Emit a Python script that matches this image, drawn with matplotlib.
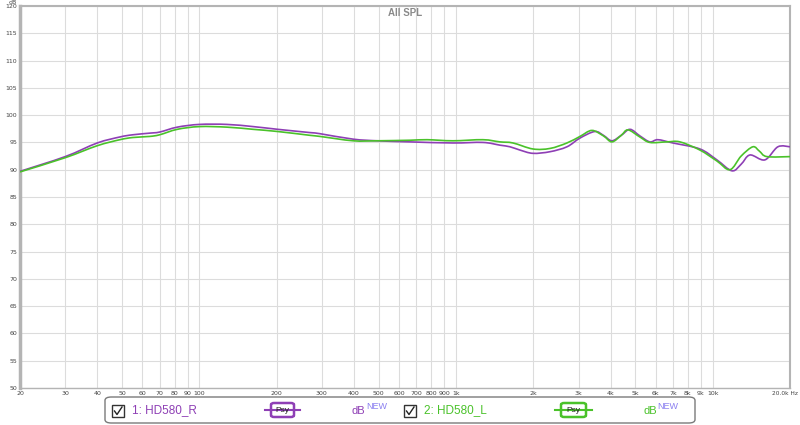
import matplotlib
matplotlib.use("Agg")
import matplotlib.pyplot as plt
import numpy as np
from matplotlib.patches import FancyBboxPatch, Rectangle, PathPatch
from matplotlib.path import Path
from matplotlib.lines import Line2D

# Частотна характеристика HD580 (правий / лівий канал)
freq_r = [20, 30, 40, 49, 55, 64, 70, 82, 100, 128, 162, 202, 270, 295, 397, 492,
          661, 972, 1272, 1482, 1622, 1774, 1993, 2323, 2704, 3039, 3471, 3750,
          4047, 4400, 4760, 5200, 5689, 6110, 6996, 8915, 10380, 11880, 12900,
          13960, 15960, 17940, 20000]
spl_r = [89.7, 92.4, 94.9, 96.0, 96.4, 96.7, 96.9, 97.8, 98.3, 98.3, 97.9, 97.4,
         96.8, 96.6, 95.6, 95.3, 95.1, 94.9, 95.0, 94.5, 94.2, 93.6, 93.0, 93.3,
         94.2, 95.8, 97.0, 96.3, 95.3, 96.3, 97.4, 96.2, 95.1, 95.5, 94.9, 93.8,
         91.8, 89.8, 91.0, 92.7, 91.8, 94.2, 94.2]

freq_l = [20, 30, 40, 49, 55, 64, 70, 82, 100, 128, 162, 202, 270, 295, 397, 492,
          661, 770, 972, 1272, 1482, 1666, 1993, 2323, 2704, 3039, 3381, 3750,
          4047, 4400, 4676, 5200, 5689, 6627, 7448, 8915, 10380, 11670, 12900,
          14330, 15200, 16260, 20000]
spl_l = [89.6, 92.2, 94.4, 95.5, 95.9, 96.1, 96.4, 97.4, 97.9, 97.8, 97.4, 97.0,
         96.3, 96.1, 95.3, 95.3, 95.4, 95.5, 95.3, 95.5, 95.1, 94.9, 93.8, 93.9,
         94.9, 96.1, 97.2, 96.2, 95.1, 96.3, 97.3, 96.0, 95.0, 95.1, 95.1, 93.6,
         91.6, 90.0, 92.5, 94.2, 93.4, 92.4, 92.4]

x_ticks = [20, 30, 40, 50, 60, 70, 80, 90, 100, 200, 300, 400, 500, 600, 700, 800,
           900, 1000, 2000, 3000, 4000, 5000, 6000, 7000, 8000, 9000, 10000, 20000]
x_labels = ["20", "30", "40", "50", "60", "70", "80", "90", "100", "200", "300",
            "400", "500", "600", "700", "800", "900", "1k", "2k", "3k", "4k", "5k",
            "6k", "7k", "8k", "9k", "10k", ""]
y_ticks = list(range(50, 121, 5))

purple = "#8e3fb5"
green = "#4ac22a"

W, H = 800, 425
fig = plt.figure(figsize=(8, 4.25), dpi=100)
fig.patch.set_facecolor("white")


def fx(px):
    return px / W


def fy(py):
    return 1 - py / H


def smooth_path(freq, spl):
    # плавна крива (Catmull-Rom -> Bezier) у лог-просторі частот
    u = np.log10(freq)
    v = np.asarray(spl, dtype=float)
    n = len(u)
    verts = [(freq[0], v[0])]
    codes = [Path.MOVETO]
    for i in range(n - 1):
        i0, i2, i3 = max(i - 1, 0), i + 1, min(i + 2, n - 1)
        c1u = u[i] + (u[i2] - u[i0]) / 6
        c1v = v[i] + (v[i2] - v[i0]) / 6
        c2u = u[i2] - (u[i3] - u[i]) / 6
        c2v = v[i2] - (v[i3] - v[i]) / 6
        verts += [(10 ** c1u, c1v), (10 ** c2u, c2v), (freq[i2], v[i2])]
        codes += [Path.CURVE4] * 3
    return Path(verts, codes)


ax = fig.add_axes([fx(20), fy(388), fx(790) - fx(20), fy(6) - fy(388)])
ax.set_xscale("log")
ax.set_xlim(20, 20000)
ax.set_ylim(50, 120)

ax.add_patch(PathPatch(smooth_path(freq_r, spl_r), fc="none", ec=purple, lw=1.2, zorder=3))
ax.add_patch(PathPatch(smooth_path(freq_l, spl_l), fc="none", ec=green, lw=1.2, zorder=4))

ax.set_xticks(x_ticks)
ax.set_xticklabels(x_labels)
ax.xaxis.set_minor_locator(matplotlib.ticker.NullLocator())
ax.set_yticks(y_ticks)
ax.set_yticklabels([str(v) for v in y_ticks])
ax.tick_params(axis="both", length=0, labelsize=4.5, colors="#444444", pad=2)
ax.grid(True, color="#dcdcdc", lw=0.8)
ax.set_axisbelow(True)
for side in ["top", "right", "left", "bottom"]:
    ax.spines[side].set_color("#b4b4b4")
ax.spines["left"].set_linewidth(2.5)
ax.spines["top"].set_linewidth(1.5)
ax.spines["right"].set_linewidth(1.5)
ax.spines["bottom"].set_linewidth(1.0)

fig.text(fx(13), fy(3), "dB", fontsize=4.5, color="#444444", ha="center", va="center")
fig.text(fx(798), fy(393.5), "20.0k Hz", fontsize=4.2, color="#444444", ha="right", va="center")
ax.text(0.5, 0.995, "All SPL", transform=ax.transAxes, ha="center", va="top",
        fontsize=7, fontweight="bold", color="#8a8a8a", family="Liberation Sans")

# Легенда знизу
fig.patches.append(FancyBboxPatch((fx(105), fy(423)), fx(695) - fx(105), fy(397) - fy(423),
                                  boxstyle="round,pad=0,rounding_size=0.008",
                                  transform=fig.transFigure, fc="white", ec="#7a7a7a", lw=1))


def legend_item(x0, name, color, psy_x0, psy_x1, db_x):
    cy = 410
    fig.patches.append(Rectangle((fx(x0), fy(417)), fx(12), fy(405) - fy(417),
                                 transform=fig.transFigure, fc="white", ec="#333333", lw=1))
    fig.lines.append(Line2D([fx(x0 + 2.5), fx(x0 + 5), fx(x0 + 10)],
                            [fy(411), fy(414.5), fy(407)],
                            transform=fig.transFigure, color="#222222", lw=1))
    fig.text(fx(x0 + 20), fy(cy), name, color=color, fontsize=8.5,
             family="Liberation Sans", va="center", ha="left")
    fig.lines.append(Line2D([fx(psy_x0 - 6), fx(psy_x1 + 6)], [fy(cy), fy(cy)],
                            transform=fig.transFigure, color=color, lw=1.5))
    fig.patches.append(FancyBboxPatch((fx(psy_x0), fy(417)), fx(psy_x1) - fx(psy_x0),
                                      fy(403) - fy(417),
                                      boxstyle="round,pad=0,rounding_size=0.004",
                                      transform=fig.transFigure, fc="white", ec=color, lw=1.8))
    fig.text(fx((psy_x0 + psy_x1) / 2), fy(cy + 0.5), "Psy", color="#222222", fontsize=6,
             family="Liberation Sans", va="center", ha="center")
    fig.text(fx(db_x), fy(cy + 1), "dB", color=color, fontsize=8,
             family="Liberation Sans", va="center", ha="left")
    fig.text(fx(db_x + 14), fy(cy - 3.5), "NEW", color="#8a7ef0", fontsize=6.5,
             family="Liberation Sans", va="center", ha="left")


legend_item(112, "1: HD580_R", purple, 271, 294, 352)
legend_item(404, "2: HD580_L", green, 561, 586, 643)

fig.savefig("out.png", dpi=100, facecolor="white")
